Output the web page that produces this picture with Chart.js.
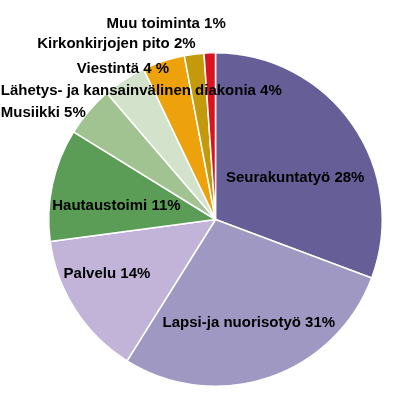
<!DOCTYPE html>
<html>
<head>
<meta charset="utf-8">
<script src="https://cdn.jsdelivr.net/npm/chart.js@4"></script>
<style>
  body { margin: 0; background: #fff; }
</style>
</head>
<body>
<canvas id="kulut" width="400" height="393"></canvas>
<script>
// Toiminnot (myötäpäivään ylhäältä alkaen)
var toiminnot = ["Seurakuntatyö", "Lapsi-ja nuorisotyö", "Palvelu", "Hautaustoimi", "Musiikki",
  "Lähetys- ja kansainvälinen diakonia", "Viestintä", "Kirkonkirjojen pito", "Muu toiminta"];
// Sektorien koot kuvasta luettuna
var osuudet = [30.7, 28.2, 14.0, 10.9, 4.9, 4.2, 4.1, 1.9, 1.1];
// Tekstissä näkyvät prosentit
var tekstit = ["28%", "31%", "14%", "11%", "5%", "4%", "4 %", "2%", "1%"];
var varit = ["#665e97", "#9e98c2", "#c2b4d9", "#5b9d57", "#a1c391", "#d3e2ca", "#eda20c", "#c49a0d", "#d9141e"];
// Tekstien keskipisteet säteen yksiköissä keskipisteestä
var tekstiPaikat = [[0.478, -0.248], [0.2, 0.618], [-0.651, 0.325], [-0.594, -0.081], [-1.033, -0.642],
  [-0.445, -0.773], [-0.555, -0.904], [-0.594, -1.054], [-0.296, -1.173]];

// Tekstit piirretään sektorin keskipisteen ja säteen mukaan
var tekstiPlugin = {
  id: 'tekstit',
  afterDatasetsDraw: function(chart) {
    var ctx = chart.ctx;
    var kaaret = chart.getDatasetMeta(0).data;
    ctx.save();
    ctx.font = 'bold 15px "Liberation Sans", Arial, sans-serif';
    ctx.fillStyle = '#000';
    ctx.textAlign = 'center';
    ctx.textBaseline = 'middle';
    kaaret.forEach(function(kaari, i) {
      var r = kaari.outerRadius;
      var x = kaari.x + tekstiPaikat[i][0] * r;
      var y = kaari.y + tekstiPaikat[i][1] * r;
      ctx.fillText(toiminnot[i] + " " + tekstit[i], x, y);
    });
    ctx.restore();
  }
};

var kulutChart = new Chart(document.getElementById("kulut"), {
  type: 'pie',
  data: {
    labels: toiminnot,
    datasets: [{
      data: osuudet,
      backgroundColor: varit,
      borderColor: '#fff',
      borderWidth: 1.5
    }]
  },
  options: {
    responsive: false,
    animation: false,
    layout: { padding: { left: 48, right: 17, top: 51, bottom: 5 } },
    plugins: {
      legend: { display: false },
      tooltip: { enabled: false }
    }
  },
  plugins: [tekstiPlugin]
});
</script>
</body>
</html>
